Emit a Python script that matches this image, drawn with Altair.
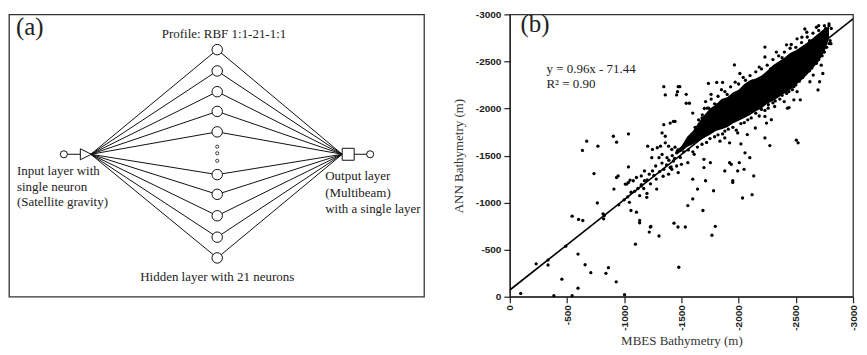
import altair as alt
import pandas as pd

# ---------------- Panel (a): RBF network diagram (diagram units) ----------------
hidden_x = 216.7
hidden_y = [46.7, 68.3, 89.3, 109.3, 130.0, 173.3, 193.3, 215.0, 236.7, 257.7]
ellipsis_y = [145.0, 151.7, 159.3]
center_y = 152.7
input_circle_x = 63
triangle_x = 85
triangle_tip_x = 90
square_x = 348
square_left_x = 342
output_circle_x = 370

left_texts = ["Input layer with", "single neuron", "(Satellite gravity)",
              "Output layer", "(Multibeam)", "with a single layer"]
left_texts_x = [16, 16, 16, 325, 325, 325]
left_texts_y = [170, 185.5, 201.5, 175, 191.5, 208]
center_texts = ["Profile: RBF 1:1-21-1:1", "Hidden layer with 21 neurons"]
center_texts_x = [223.5, 216.7]
center_texts_y = [30.7, 276.7]
label_a = "(a)"
label_a_pos = [15, 24]

# ---------------- Panel (b): scatter ----------------
x_ticks = [0, -500, -1000, -1500, -2000, -2500, -3000]
y_ticks = [0, -500, -1000, -1500, -2000, -2500, -3000]

pts_x = [-95, -230, -334, -334, -385, -455, -545, -489, -596, -596, -658, -708, -545, -601, -638,
         -736, -765, -840, -862, -930, -1003, -820, -815, -910, -933, -947, -952, -1009, -1022, -1037,
         -1045, -1059, -1107, -1135, -1135, -1233, -1219, -1304, -1098, -1135, -1197, -1199, -1284, -1149,
         -1177, -1079, -1051, -1435, -1477, -826, -1228, -1470, -1534,
         -1346, -1359, -1472, -1458, -1346, -1430, -1402, -1331, -1359, -672, -635, -770, -905, -933,
         -1037, -1037, -1107, -1149, -1177, -1205, -1247, -1289, -1241, -1304,
         -1359, -1388, -1416, -1444, -1317, -1331, -1374, -1430, -1458, -1402, -1346, -1388, -1275, -1247, -1219,
         -1444, -1542, -1599, -1683, -1739, -1466, -1486, -1542, -1570, -1711, -1759, -1725, -1809, -1736,
         -1809, -1860, -1963, -2011, -2230, -2230, -2419, -2579, -2596, -2553, -2511, -2680, -2807,
         -2483, -2511, -2539, -2483, -2623, -2708, -2694, -2736, -2652, -2722, -2399, -2427, -2315, -2258,
         -2244, -2286, -2441, -2230, -2244, -2286, -2146, -2230, -2273, -2505, -2520, -2076, -1992, -2020,
         -1921, -1837, -1879, -2056, -2098, -2006, -1921, -1936, -1992, -1949, -1949, -2048, -2132, -2118,
         -2034, -1879, -1781, -1711, -1641, -1599, -1556, -1688, -1599, -1697, -1753, -1697, -1612, -1556,
         -1500, -1472, -1416, -1767, -1796,
         -1000, -1030, -1060, -1090, -1120, -1150, -1170, -1200, -1230, -1260, -1280, -1310, -1330, -1340,
         -1370, -1390, -1410, -1420, -1440, -1460, -1470, -1490, -1510, -1520, -1540, -1560]
pts_y = [-35, -350, -337, -389, -11, -186, -11, -537, -453, -91, -340, -256, -856, -821, -810,
         -1309, -997, -249, -309, -158, -21, -828, -881, -1144, -1267, -1284, -976, -1197, -1197, -1214,
         -1003, -916, -898, -810, -786, -747, -687, -645, -558, -1074, -1056, -1098, -1144, -1179,
         -1232, -1232, -1239, -782, -313, -863, -741, -741, -741,
         -2232, -2144, -2232, -2144, -1828, -1863, -1845, -1740, -1705, -1653, -1555, -1600, -1705, -1642,
         -1730, -1379, -1267, -1284, -1337, -1600, -1565, -1583, -1477, -1477,
         -1635, -1600, -1565, -1589, -1600, -1512, -1477, -1442, -1389, -1372, -1354, -1302, -1389, -1337, -1302,
         -1863, -2056, -1951, -1933, -2003, -2179, -2232, -2151, -2056, -2074, -2151, -2003, -2039, -2266,
         -2277, -2277, -2463, -2372, -2653, -2547, -2677, -2845, -2810, -2758, -2740, -2863, -2689,
         -2232, -2179, -2092, -2092, -2284, -2284, -2197, -2372, -2355, -2460, -2074, -2003, -2021, -2003,
         -2126, -2108, -2010, -1916, -1845, -1881, -1793, -1687, -1606, -1663, -1635, -1723, -1740, -1624,
         -1635, -1653, -1687, -1529, -1477, -1424, -1424, -1407, -1337, -1232, -1215, -1354, -1284, -1084,
         -1049, -1337, -1126, -1232, -1144, -1039, -968, -916, -1249, -1372, -1424, -1460, -1513, -1424,
         -1407, -1319, -1354, -653, -748,
         -1030, -1060, -1110, -1120, -1150, -1190, -1150, -1240, -1200, -1290, -1250, -1330, -1420, -1280,
         -1400, -1450, -1380, -1500, -1470, -1530, -1560, -1480, -1590, -1540, -1620, -1560]

edge_x = [-1650, -1700, -1760, -1820, -1880, -1930, -2000, -2060, -2100, -2150, -2200, -2250, -2300, -2350,
          -2400, -2450, -2500, -2550, -2600, -2650, -2700, -2750, -2790, -2810,
          -1600, -1680, -1750, -1820, -1880, -1950, -2020, -2080, -2150, -2200, -2260, -2320, -2380, -2440,
          -2500, -2560, -2620, -2680, -2730, -2770, -2800,
          -1620, -1680, -1790, -1850, -1900, -1970, -2040, -2120, -2180, -2280, -2330, -2380, -2460, -2520,
          -2620, -2700, -2760, -2790,
          -1640, -1720, -1790, -1860, -1910, -1980, -2050, -2110, -2180, -2230, -2300, -2360, -2420, -2470,
          -2530, -2590, -2640, -2700, -2750, -2790]
edge_y = [-1880, -2000, -2100, -2130, -2180, -2230, -2260, -2300, -2350, -2390, -2420, -2460, -2520, -2560,
          -2600, -2640, -2650, -2700, -2760, -2800, -2830, -2880, -2880, -2850,
          -1540, -1620, -1680, -1720, -1760, -1800, -1840, -1880, -1950, -1990, -2040, -2080, -2140, -2180,
          -2250, -2330, -2400, -2480, -2560, -2650, -2720,
          -1800, -1900, -2050, -2200, -2150, -2280, -2330, -2290, -2440, -2420, -2600, -2540, -2680, -2600,
          -2720, -2880, -2850, -2900,
          -1590, -1640, -1700, -1730, -1780, -1770, -1850, -1900, -1920, -1980, -2060, -2100, -2160, -2200,
          -2290, -2380, -2430, -2520, -2600, -2690]

core_x = [-1450, -1500, -1550, -1600, -1650, -1700, -1750, -1800, -1850, -1900, -1950, -2000, -2050, -2100,
          -2150, -2200, -2250, -2300, -2350, -2400, -2450, -2500, -2550, -2600, -2650, -2700, -2750, -2790]
core_top = [-1550, -1600, -1700, -1760, -1850, -1930, -2000, -2040, -2100, -2120, -2170, -2200, -2260, -2300,
            -2320, -2350, -2400, -2460, -2500, -2540, -2590, -2620, -2660, -2700, -2750, -2800, -2850, -2870]
core_bot = [-1510, -1540, -1590, -1620, -1660, -1690, -1720, -1760, -1780, -1800, -1840, -1870, -1900, -1930,
            -1970, -2000, -2050, -2080, -2120, -2160, -2200, -2250, -2300, -2360, -2430, -2500, -2600, -2740]

fit_x = [0, -3000]
fit_y = [-71.44, -2951.44]

equation_lines = ["y = 0.96x - 71.44", "R\u00b2 = 0.90"]
equation_x = [-320, -320]
equation_y = [-2421, -2263]
label_b = "(b)"
label_b_pos = [-93, -2895]

SERIF = "Liberation Serif"
INK = "#222222"

# ---------------- build panel (a) ----------------
sxa = alt.Scale(domain=[8, 424], nice=False, zero=False)
sya = alt.Scale(domain=[11, 297], nice=False, zero=False, reverse=True)

def ax(field):
    return alt.X(field, type="quantitative", scale=sxa, axis=None)

def ay(field):
    return alt.Y(field, type="quantitative", scale=sya, axis=None)

n = len(hidden_y)
left_lines = pd.DataFrame({"x0": [triangle_tip_x] * n, "y0": [center_y] * n,
                           "x1": [hidden_x] * n, "y1": hidden_y})
right_lines = pd.DataFrame({"x0": [hidden_x] * n, "y0": hidden_y,
                            "x1": [square_left_x] * n, "y1": [center_y] * n})
stubs = pd.DataFrame({"x0": [input_circle_x, square_x], "y0": [center_y, center_y],
                      "x1": [triangle_x, output_circle_x], "y1": [center_y, center_y]})
nodes = pd.DataFrame({"x": [hidden_x] * n, "y": hidden_y})
dots = pd.DataFrame({"x": [hidden_x] * len(ellipsis_y), "y": ellipsis_y})
io_circles = pd.DataFrame({"x": [input_circle_x, output_circle_x], "y": [center_y, center_y]})
tri = pd.DataFrame({"x": [triangle_x], "y": [center_y]})
sq = pd.DataFrame({"x": [square_x], "y": [center_y]})
ltxt = pd.DataFrame({"x": left_texts_x, "y": left_texts_y, "t": left_texts})
ctxt = pd.DataFrame({"x": center_texts_x, "y": center_texts_y, "t": center_texts})
atxt = pd.DataFrame({"x": [label_a_pos[0]], "y": [label_a_pos[1]], "t": [label_a]})

rule_layers = [
    alt.Chart(df).mark_rule(color="#111", strokeWidth=1).encode(
        x=ax("x0"), y=ay("y0"), x2="x1", y2="y1")
    for df in (left_lines, right_lines, stubs)
]
node_layer = alt.Chart(nodes).mark_point(shape="circle", filled=True, fill="white", stroke="#111",
                                         strokeWidth=1, size=110, opacity=1).encode(x=ax("x"), y=ay("y"))
dot_layer = alt.Chart(dots).mark_point(shape="circle", filled=True, fill="white", stroke="#111",
                                       strokeWidth=0.8, size=10, opacity=1).encode(x=ax("x"), y=ay("y"))
io_layer = alt.Chart(io_circles).mark_point(shape="circle", filled=True, fill="white", stroke="#111",
                                            strokeWidth=1, size=50, opacity=1).encode(x=ax("x"), y=ay("y"))
tri_layer = alt.Chart(tri).mark_point(shape="M -1 -1 L 1 0 L -1 1 Z", filled=True, fill="white",
                                      stroke="#111", strokeWidth=1, size=121, opacity=1).encode(
    x=ax("x"), y=ay("y"))
sq_layer = alt.Chart(sq).mark_point(shape="square", filled=True, fill="white", stroke="#111",
                                    strokeWidth=1, size=144, opacity=1).encode(x=ax("x"), y=ay("y"))
ltxt_layer = alt.Chart(ltxt).mark_text(align="left", baseline="middle", font=SERIF, fontSize=13,
                                       color=INK).encode(x=ax("x"), y=ay("y"), text="t:N")
ctxt_layer = alt.Chart(ctxt).mark_text(align="center", baseline="middle", font=SERIF, fontSize=13,
                                       color=INK).encode(x=ax("x"), y=ay("y"), text="t:N")
atxt_layer = alt.Chart(atxt).mark_text(align="left", baseline="middle", font=SERIF, fontSize=25,
                                       color=INK).encode(x=ax("x"), y=ay("y"), text="t:N")

panel_a = alt.layer(*rule_layers, node_layer, dot_layer, io_layer, tri_layer, sq_layer,
                    ltxt_layer, ctxt_layer, atxt_layer).properties(width=416, height=283)

# ---------------- build panel (b) ----------------
sxb = alt.Scale(domain=[-3000, 0], reverse=True, nice=False, zero=False)
syb = alt.Scale(domain=[-3000, 0], reverse=True, nice=False, zero=False)
x_axis = alt.Axis(values=x_ticks, labelExpr="'' + datum.value", labelAngle=270,
                  title="MBES Bathymetry (m)", grid=False, tickSize=6, labelPadding=2, titlePadding=4)
y_axis = alt.Axis(values=y_ticks, labelExpr="'' + datum.value", title="ANN Bathymetry (m)",
                  grid=False, tickSize=6, labelPadding=3, titlePadding=10)

def bx(field):
    return alt.X(field, type="quantitative", scale=sxb, axis=x_axis)

def by(field):
    return alt.Y(field, type="quantitative", scale=syb, axis=y_axis)

pts = pd.DataFrame({"x": pts_x + edge_x, "y": pts_y + edge_y})
core = pd.DataFrame({"x": core_x, "top": core_top, "bot": core_bot})
fit = pd.DataFrame({"x": fit_x, "y": fit_y})
eq = pd.DataFrame({"x": equation_x, "y": equation_y, "t": equation_lines})
btxt = pd.DataFrame({"x": [label_b_pos[0]], "y": [label_b_pos[1]], "t": [label_b]})

core_layer = alt.Chart(core).mark_area(color="#000", opacity=1).encode(
    x=bx("x"), y=by("top"), y2="bot")
pts_layer = alt.Chart(pts).mark_circle(color="#000", size=11, opacity=1).encode(x=bx("x"), y=by("y"))
fit_layer = alt.Chart(fit).mark_line(color="#000", strokeWidth=1.6, clip=True).encode(
    x=bx("x"), y=by("y"))
eq_layer = alt.Chart(eq).mark_text(align="left", baseline="middle", font=SERIF, fontSize=13,
                                   color=INK).encode(x=bx("x"), y=by("y"), text="t:N")
b_layer = alt.Chart(btxt).mark_text(align="left", baseline="middle", font=SERIF, fontSize=25,
                                    color=INK).encode(x=bx("x"), y=by("y"), text="t:N")

panel_b = alt.layer(core_layer, pts_layer, fit_layer, eq_layer, b_layer).properties(width=344, height=283)

chart = alt.hconcat(panel_a, panel_b, spacing=86, bounds="flush").properties(
    padding={"left": 0, "top": 0, "right": 0, "bottom": 0}
).configure_view(stroke="#333", strokeWidth=1.3).configure_axis(
    labelFont="Liberation Sans", labelFontWeight="bold", labelFontSize=10, labelColor=INK,
    titleFont=SERIF, titleFontWeight="normal", titleFontSize=13, titleColor="#333",
    domainColor="#222", tickColor="#222", domainWidth=1.2, tickWidth=1.2
)

chart.save("out.html", embed_options={"renderer": "svg", "actions": False})
